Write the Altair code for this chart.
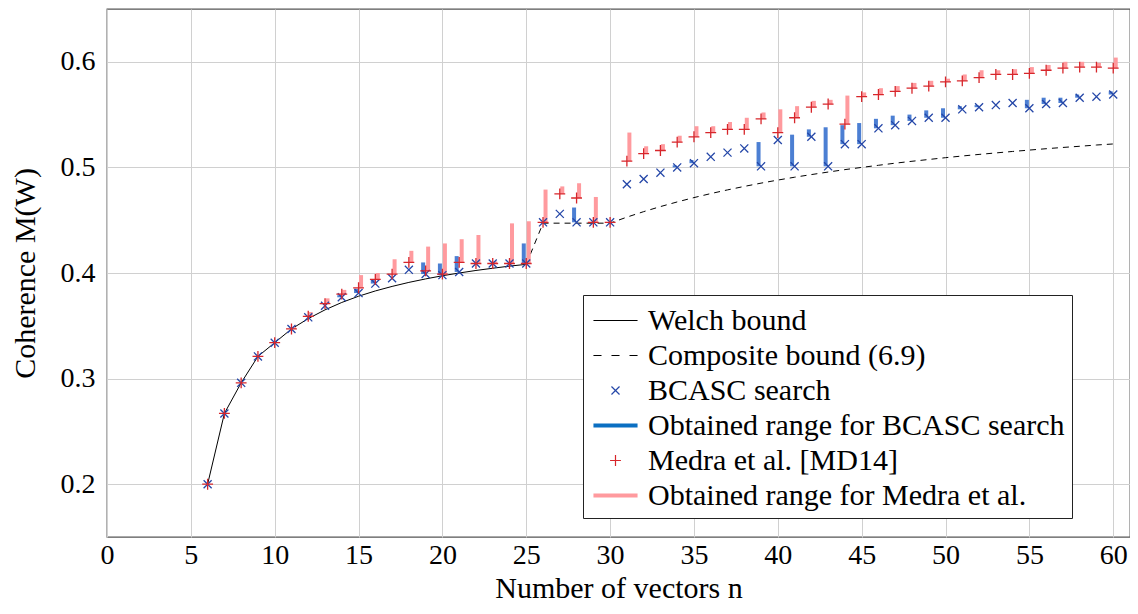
import altair as alt
import pandas as pd

# ---------------- data ----------------
n_vals = list(range(6, 61))

bcasc = [0.200, 0.267, 0.296, 0.321, 0.334, 0.347, 0.358, 0.369, 0.377, 0.381,
         0.390, 0.395, 0.403, 0.399, 0.398, 0.401, 0.409, 0.409, 0.409, 0.409,
         0.448, 0.456, 0.448, 0.448, 0.448, 0.484, 0.489, 0.495, 0.500, 0.504,
         0.510, 0.514, 0.518, 0.501, 0.526, 0.501, 0.529, 0.501, 0.522, 0.522,
         0.537, 0.540, 0.544, 0.547, 0.547, 0.555, 0.557, 0.559, 0.561, 0.556,
         0.560, 0.561, 0.566, 0.567, 0.569]

bcasc_max = [0.200, 0.267, 0.296, 0.321, 0.334, 0.347, 0.358, 0.369, 0.379, 0.385,
             0.394, 0.395, 0.403, 0.410, 0.409, 0.416, 0.409, 0.409, 0.409, 0.428,
             0.448, 0.456, 0.462, 0.448, 0.448, 0.484, 0.489, 0.495, 0.502, 0.507,
             0.510, 0.514, 0.518, 0.524, 0.526, 0.531, 0.536, 0.538, 0.540, 0.542,
             0.546, 0.549, 0.550, 0.554, 0.556, 0.558, 0.559, 0.559, 0.561, 0.564,
             0.566, 0.566, 0.569, 0.567, 0.572]

medra = [0.200, 0.267, 0.296, 0.321, 0.334, 0.347, 0.359, 0.371, 0.380, 0.386,
         0.394, 0.399, 0.410, 0.402, 0.399, 0.410, 0.409, 0.409, 0.409, 0.409,
         0.448, 0.475, 0.471, 0.448, 0.448, 0.506, 0.513, 0.516, 0.524, 0.529,
         0.533, 0.536, 0.536, 0.546, 0.533, 0.547, 0.557, 0.560, 0.541, 0.567,
         0.569, 0.572, 0.575, 0.577, 0.581, 0.582, 0.585, 0.588, 0.588, 0.589,
         0.592, 0.594, 0.595, 0.595, 0.594]

medra_max = [0.200, 0.267, 0.296, 0.321, 0.334, 0.349, 0.363, 0.376, 0.384, 0.398,
             0.400, 0.413, 0.421, 0.425, 0.428, 0.432, 0.436, 0.411, 0.447, 0.449,
             0.479, 0.482, 0.485, 0.472, 0.448, 0.533, 0.520, 0.522, 0.530, 0.539,
             0.539, 0.543, 0.547, 0.552, 0.555, 0.558, 0.563, 0.564, 0.568, 0.571,
             0.575, 0.577, 0.580, 0.582, 0.584, 0.588, 0.592, 0.592, 0.593, 0.595,
             0.597, 0.600, 0.600, 0.599, 0.604]

welch_n = list(range(6, 26))
welch = [0.200, 0.267, 0.296, 0.321, 0.334, 0.347, 0.3568, 0.3651, 0.3721, 0.3780,
         0.3830, 0.3873, 0.3911, 0.3944, 0.3974, 0.4000, 0.4024, 0.4045, 0.4065, 0.4082]

comp_n = list(range(25, 61))
comp = [0.4082, 0.4472, 0.4472, 0.4472, 0.4472, 0.4472, 0.4529, 0.4581, 0.4629, 0.4673,
        0.4714, 0.4752, 0.4787, 0.4820, 0.4851, 0.4880, 0.4907, 0.4932, 0.4956, 0.4979,
        0.5000, 0.5020, 0.5040, 0.5058, 0.5075, 0.5092, 0.5108, 0.5123, 0.5137, 0.5151,
        0.5164, 0.5177, 0.5189, 0.5200, 0.5212, 0.5222]

x_ticks = list(range(0, 61, 5))
y_ticks = [0.2, 0.3, 0.4, 0.5, 0.6]

S_WELCH = "Welch bound"
S_COMP = "Composite bound (6.9)"
S_B = "BCASC search"
S_BR = "Obtained range for BCASC search"
S_M = "Medra et al. [MD14]"
S_MR = "Obtained range for Medra et al."
series_domain = [S_WELCH, S_COMP, S_B, S_BR, S_M, S_MR]
C_BLACK = "#000000"
C_BLUE_PT = "#2547a8"
C_BLUE_LEG = "#0b6fc2"
C_BLUE_BAR = "#1f5fc8"
C_RED_PT = "#d7262b"
C_RED_RANGE = "#ff9a9e"
series_colors = [C_BLACK, C_BLACK, C_BLUE_PT, C_BLUE_LEG, C_RED_PT, C_RED_RANGE]
THICK = "M-1.26,-0.085H1.26M-1.26,-0.03H1.26M-1.26,0.03H1.26M-1.26,0.085H1.26"
series_shapes = [
    "M-1.26,0H1.26",
    "M-1.26,0H-0.8M-0.23,0H0.23M0.8,0H1.26",
    "M-0.23,-0.23L0.23,0.23M-0.23,0.23L0.23,-0.23",
    THICK,
    "M-0.31,0H0.31M0,-0.31V0.31",
    THICK,
]

FONT = "Liberation Serif"

# ---------------- tables ----------------
df_welch = pd.DataFrame({"n": welch_n, "v": welch})
df_comp = pd.DataFrame({"n": comp_n, "v": comp})
df_b = pd.DataFrame({"n": n_vals, "v": bcasc, "series": S_B})
df_m = pd.DataFrame({"n": n_vals, "v": medra, "series": S_M})
df_br = pd.DataFrame({"n": n_vals, "v": bcasc, "hi": bcasc_max})
df_br = df_br[df_br["hi"] > df_br["v"]]
df_mr = pd.DataFrame({"n": n_vals, "v": medra, "hi": medra_max})
df_mr = df_mr[df_mr["hi"] > df_mr["v"]]

x_enc = alt.X("n:Q", scale=alt.Scale(domain=[0, 61], nice=False, zero=False),
              axis=alt.Axis(values=x_ticks, title="Number of vectors n", format="d"))
y_enc = alt.Y("v:Q", scale=alt.Scale(domain=[0.15, 0.65], nice=False, zero=False),
              axis=alt.Axis(values=y_ticks, title="Coherence M(W)", format=".1f"))

legend = alt.Legend(
    title=None, orient="none", legendX=476, legendY=286,
    labelFont=FONT, labelFontSize=30, labelColor="black",
    symbolSize=1225, symbolOffset=7, labelOffset=14,
    padding=7, rowPadding=1,
    strokeColor="#222", fillColor="white",
    symbolStrokeWidth=1.2,
    labelLimit=800,
)
color_legend = alt.Color("series:N", scale=alt.Scale(domain=series_domain, range=series_colors),
                         legend=legend)
shape_enc = alt.Shape("series:N", scale=alt.Scale(domain=series_domain, range=series_shapes),
                      legend=legend)

welch_line = alt.Chart(df_welch).mark_line(strokeWidth=1, color=C_BLACK).encode(
    x=x_enc, y=y_enc)
comp_line = alt.Chart(df_comp).mark_line(strokeWidth=1, strokeDash=[6, 5], color=C_BLACK).encode(
    x=x_enc, y=y_enc)

b_range = alt.Chart(df_br).mark_rule(strokeWidth=4, xOffset=-2.5, opacity=0.8, strokeCap="butt",
                                     color=C_BLUE_BAR).encode(x=x_enc, y=y_enc, y2="hi:Q")
m_range = alt.Chart(df_mr).mark_rule(strokeWidth=4, xOffset=2.5, strokeCap="butt",
                                     color=C_RED_RANGE).encode(x=x_enc, y=y_enc, y2="hi:Q")

b_pts = alt.Chart(df_b).mark_point(filled=False, size=1225, strokeWidth=1.3, opacity=1).encode(
    x=x_enc, y=y_enc, color=color_legend, shape=shape_enc)
m_pts = alt.Chart(df_m).mark_point(filled=False, size=1225, strokeWidth=1.3, opacity=1).encode(
    x=x_enc, y=y_enc, color=color_legend, shape=shape_enc)

chart = alt.layer(welch_line, comp_line, b_range, m_range, b_pts, m_pts).properties(
    width=1023, height=528,
    autosize=alt.AutoSizeParams(type="none"),
    padding={"left": 99, "top": 1, "right": 0, "bottom": 69},
).configure_view(
    stroke="#555", strokeWidth=1.3
).configure_axis(
    labelFont=FONT, labelFontSize=28, labelColor="black",
    titleFont=FONT, titleFontSize=30, titleFontWeight="normal", titleColor="black",
    grid=True, gridColor="#d0d0d0", gridWidth=1,
    domain=False, ticks=False, tickSize=0, labelFlush=False,
).configure_axisX(
    labelPadding=4, titlePadding=4,
).configure_axisY(
    labelPadding=12, titlePadding=20,
)

chart.save("out.html", embed_options={"renderer": "svg", "actions": False})
